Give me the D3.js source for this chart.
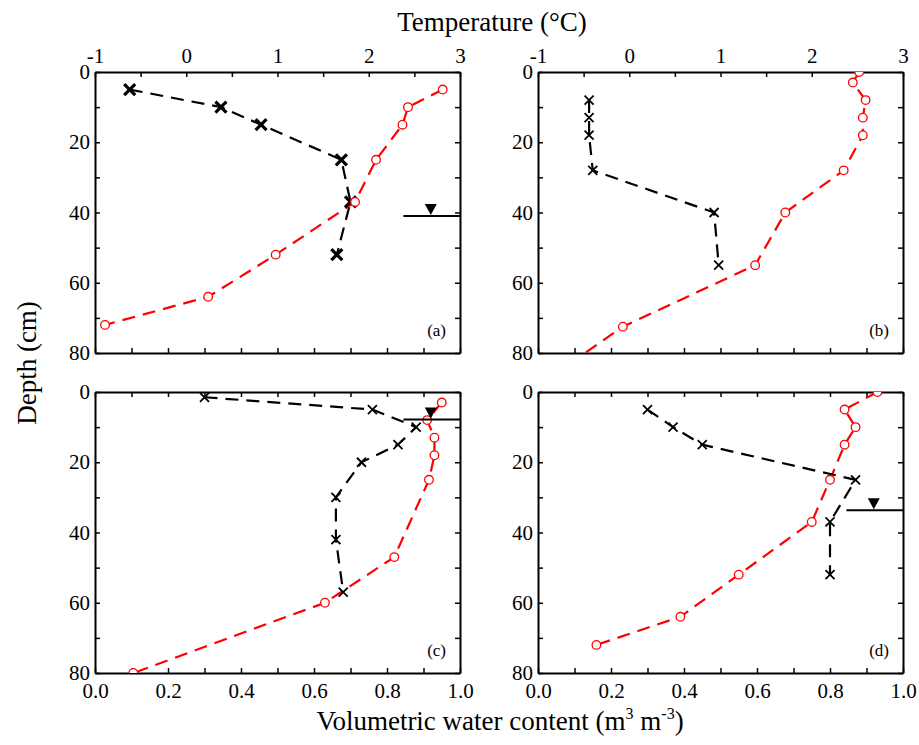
<!DOCTYPE html>
<meta charset="utf-8">
<style>
html{
  background: #fff;
}
body{
  margin: 0;
}
svg text{
  font-family: "Liberation Serif", "Times New Roman", serif;
  fill: #000;
}
</style>
<body>
<script src="https://d3js.org/d3.v7.min.js"></script>
<script>

var width = 919,
    height = 745;

// panel (a), temperature axis
var aCrossDepth = [5, 10, 15, 25, 37, 52];
var aCrossValue = [-0.62, 0.38, 0.82, 1.70, 1.80, 1.65];
var aCircleDepth = [5, 10, 15, 25, 37, 52, 64, 72];
var aCircleValue = [2.81, 2.43, 2.37, 2.08, 1.85, 0.98, 0.24, -0.89];

// panel (b), temperature axis
var bCrossDepth = [8, 13, 18, 28, 40, 55];
var bCrossValue = [-0.44, -0.44, -0.44, -0.40, 0.93, 0.98];
var bCircleDepth = [0, 3, 8, 13, 18, 28, 40, 55, 72.5, 85];
var bCircleValue = [2.52, 2.45, 2.59, 2.56, 2.56, 2.35, 1.71, 1.38, -0.07, -0.76];

// panel (c), water content axis
var cCrossDepth = [1.5, 5, 10, 15, 20, 30, 42, 57];
var cCrossValue = [0.30, 0.76, 0.88, 0.83, 0.73, 0.66, 0.66, 0.68];
var cCircleDepth = [3, 8, 13, 18, 25, 47, 60, 80];
var cCircleValue = [0.95, 0.91, 0.93, 0.93, 0.915, 0.82, 0.63, 0.105];

// panel (d), water content axis
var dCrossDepth = [5, 10, 15, 25, 37, 52];
var dCrossValue = [0.30, 0.37, 0.45, 0.87, 0.80, 0.80];
var dCircleDepth = [0, 5, 10, 15, 25, 37, 52, 64, 72];
var dCircleValue = [0.93, 0.84, 0.87, 0.84, 0.80, 0.75, 0.55, 0.39, 0.16];

var panelNames = ["(a)", "(b)", "(c)", "(d)"];
var waterTableDepth = [41, null, 7.8, 33.7];

var tempLabels = [-1, 0, 1, 2, 3];
var wcLabels = [0, 0.2, 0.4, 0.6, 0.8, 1.0];
var depthLabels = [0, 20, 40, 60, 80];

var xTitle = "Volumetric water content";
var topTitle = "Temperature (°C)";
var yTitle = "Depth (cm)";

var plotW = 365, plotH = 281;
var lefts = [95, 538], tops = [72, 392];

var svg;

window.addEventListener('load', init, false);

function zip(depths, values){
  return depths.map(function(d, i){ return {depth: d, value: values[i]}; });
}

function init(){
  svg = d3.select("body").append("svg")
    .attr("width", width)
    .attr("height", height);

  var panels = [
    {cross: zip(aCrossDepth, aCrossValue), circle: zip(aCircleDepth, aCircleValue), temp: true, boldCross: true},
    {cross: zip(bCrossDepth, bCrossValue), circle: zip(bCircleDepth, bCircleValue), temp: true},
    {cross: zip(cCrossDepth, cCrossValue), circle: zip(cCircleDepth, cCircleValue), temp: false},
    {cross: zip(dCrossDepth, dCrossValue), circle: zip(dCircleDepth, dCircleValue), temp: false}
  ];

  panels.forEach(function(p, i){
    p.left = lefts[i % 2];
    p.top = tops[Math.floor(i / 2)];
    p.name = panelNames[i];
    p.water = waterTableDepth[i];
    p.id = i;
    drawPanel(p);
  });

  setTitles();
}

function isLabel(list, d){
  return list.some(function(v){ return Math.abs(v - d) < 1e-6; });
}

function styleAxis(g){
  g.select(".domain").attr("stroke", "#000").attr("stroke-width", 2);
  g.selectAll(".tick line").attr("stroke", "#000").attr("stroke-width", 1.5);
  g.selectAll(".tick text").attr("font-size", 21)
    .attr("font-family", "'Liberation Serif', 'Times New Roman', serif");
}

function drawPanel(p){
  var g = svg.append("g");

  var y = d3.scaleLinear().domain([0, 80]).range([p.top, p.top + plotH]);
  var wc = d3.scaleLinear().domain([0, 1]).range([p.left, p.left + plotW]);
  var temp = d3.scaleLinear().domain([-1, 3]).range([p.left, p.left + plotW]);
  var x = p.temp ? temp : wc;

  var depthTicks = d3.range(0, 81, 10);
  var wcTicks = d3.range(0, 1.0001, 0.1);
  var tempTicks = d3.range(-1, 3.0001, 0.5);

  // left
  g.append("g")
    .attr("transform", "translate(" + p.left + ",0)")
    .call(d3.axisLeft(y).tickValues(depthTicks).tickSizeInner(-5).tickSizeOuter(0).tickPadding(5)
      .tickFormat(function(d){ return isLabel(depthLabels, d) ? String(d) : ""; }))
    .call(styleAxis);

  // right
  g.append("g")
    .attr("transform", "translate(" + (p.left + plotW) + ",0)")
    .call(d3.axisRight(y).tickValues(depthTicks).tickSizeInner(-5).tickSizeOuter(0).tickFormat(""))
    .call(styleAxis);

  if(p.top === tops[0]){
    g.append("g")
      .attr("transform", "translate(0," + p.top + ")")
      .call(d3.axisTop(temp).tickValues(tempTicks).tickSizeInner(-5).tickSizeOuter(0).tickPadding(9)
        .tickFormat(function(d){ return isLabel(tempLabels, d) ? String(Math.round(d)) : ""; }))
      .call(styleAxis);
    g.append("g")
      .attr("transform", "translate(0," + (p.top + plotH) + ")")
      .call(d3.axisBottom(wc).tickValues(wcTicks).tickSizeInner(-5).tickSizeOuter(0).tickFormat(""))
      .call(styleAxis);
  } else {
    g.append("g")
      .attr("transform", "translate(0," + p.top + ")")
      .call(d3.axisTop(wc).tickValues(wcTicks).tickSizeInner(-5).tickSizeOuter(0).tickFormat(""))
      .call(styleAxis);
    g.append("g")
      .attr("transform", "translate(0," + (p.top + plotH) + ")")
      .call(d3.axisBottom(wc).tickValues(wcTicks).tickSizeInner(-5).tickSizeOuter(0).tickPadding(10)
        .tickFormat(function(d){ return isLabel(wcLabels, d) ? d3.format(".1f")(d) : ""; }))
      .call(styleAxis);
  }

  svg.append("clipPath").attr("id", "clip" + p.id)
    .append("rect")
    .attr("x", p.left).attr("y", p.top)
    .attr("width", plotW).attr("height", plotH);

  var plot = g.append("g").attr("clip-path", "url(#clip" + p.id + ")");

  var line = d3.line()
    .x(function(d){ return x(d.value); })
    .y(function(d){ return y(d.depth); });

  plot.append("path")
    .datum(p.circle)
    .attr("fill", "none")
    .attr("stroke", "red")
    .attr("stroke-width", 2.2)
    .attr("stroke-dasharray", "13,8")
    .attr("d", line);

  plot.append("path")
    .datum(p.cross)
    .attr("fill", "none")
    .attr("stroke", "#000")
    .attr("stroke-width", 2.2)
    .attr("stroke-dasharray", "13,8")
    .attr("d", line);

  // water table
  if(p.water != null){
    var wy = y(p.water);
    g.append("line")
      .attr("x1", p.left + plotW * 0.845).attr("x2", p.left + plotW)
      .attr("y1", wy).attr("y2", wy)
      .attr("stroke", "#000").attr("stroke-width", 2);
    var tx = p.left + plotW * 0.92;
    g.append("path")
      .attr("d", "M" + (tx - 6) + "," + (wy - 12) + "L" + (tx + 6) + "," + (wy - 12) + "L" + tx + "," + (wy - 1) + "Z")
      .attr("fill", "#000");
  }

  var s = p.boldCross ? 5.5 : 4.5;
  plot.selectAll("path.cross")
    .data(p.cross)
    .enter().append("path")
    .attr("class", "cross")
    .attr("transform", function(d){ return "translate(" + x(d.value) + "," + y(d.depth) + ")"; })
    .attr("d", "M" + (-s) + "," + (-s) + "L" + s + "," + s + "M" + (-s) + "," + s + "L" + s + "," + (-s))
    .attr("stroke", "#000")
    .attr("stroke-width", p.boldCross ? 3.2 : 1.8)
    .attr("fill", "none");

  plot.selectAll("circle")
    .data(p.circle)
    .enter().append("circle")
    .attr("cx", function(d){ return x(d.value); })
    .attr("cy", function(d){ return y(d.depth); })
    .attr("r", 4.3)
    .attr("fill", "#fff")
    .attr("stroke", "red")
    .attr("stroke-width", 1.3);

  g.append("text")
    .attr("x", p.left + plotW - 14)
    .attr("y", p.top + plotH - 17)
    .attr("text-anchor", "end")
    .attr("font-size", 17)
    .text(p.name);
}

function setTitles(){
  svg.append("text")
    .attr("x", 492).attr("y", 31)
    .attr("text-anchor", "middle")
    .attr("font-size", 27)
    .text(topTitle);

  var t = svg.append("text")
    .attr("x", 500).attr("y", 730)
    .attr("text-anchor", "middle")
    .attr("font-size", 27);
  t.append("tspan").text(xTitle + " (m");
  t.append("tspan").attr("dy", -11).attr("font-size", 16).text("3");
  t.append("tspan").attr("dy", 11).text(" m");
  t.append("tspan").attr("dy", -11).attr("font-size", 16).text("-3");
  t.append("tspan").attr("dy", 11).text(")");

  svg.append("text")
    .attr("transform", "translate(36,363) rotate(-90)")
    .attr("text-anchor", "middle")
    .attr("font-size", 27)
    .text(yTitle);
}

</script>
</body>
